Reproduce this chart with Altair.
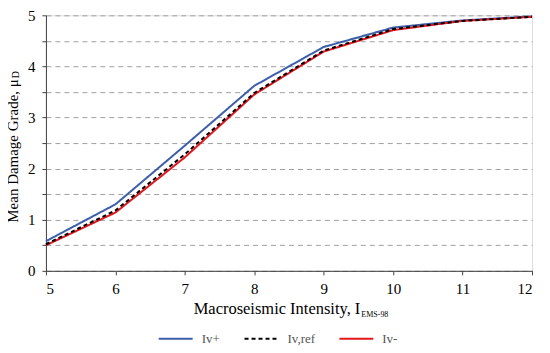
import altair as alt
import pandas as pd

intensity = [5, 6, 7, 8, 9, 10, 11, 12]
iv_plus = [0.58, 1.30, 2.45, 3.62, 4.38, 4.76, 4.90, 4.98]
iv_ref = [0.52, 1.18, 2.28, 3.48, 4.31, 4.73, 4.89, 4.97]
iv_minus = [0.50, 1.14, 2.22, 3.45, 4.29, 4.71, 4.89, 4.97]
series_names = ["Iv+", "Iv,ref", "Iv-"]
series_colors = ["#3d5ea8", "#000000", "#e3161e"]
series_dash = [[1, 0], [4, 3], [1, 0]]

rows = []
for name, vals in zip(series_names, [iv_plus, iv_ref, iv_minus]):
    for x, v in zip(intensity, vals):
        rows.append({"I": x, "mu": v, "series": name})
df = pd.DataFrame(rows)

FONT = "Liberation Serif"

xenc = alt.X("I:Q", scale=alt.Scale(domain=[5, 12], nice=False, zero=False),
             axis=alt.Axis(values=intensity, title=None, grid=False, tickSize=4,
                           labelPadding=7, labelFontSize=15, labelFont=FONT,
                           labelColor="#000", domainColor="#404040", tickColor="#404040"))
yenc = alt.Y("mu:Q", scale=alt.Scale(domain=[0, 5], nice=False),
             axis=alt.Axis(values=[0, 0.5, 1, 1.5, 2, 2.5, 3, 3.5, 4, 4.5, 5], title=None,
                           labelExpr="datum.value % 1 == 0 ? format(datum.value, 'd') : ''",
                           grid=True, gridDash=[5, 4], gridColor="#a0a0a0", gridWidth=1,
                           tickSize=4, labelPadding=7, labelFontSize=15, labelFont=FONT,
                           labelColor="#000", domainColor="#404040", tickColor="#404040"))
color = alt.Color("series:N", scale=alt.Scale(domain=series_names, range=series_colors),
                  legend=alt.Legend(title=None, orient="none", direction="horizontal",
                                    legendX=112, legendY=306, symbolType="stroke",
                                    symbolSize=1156, symbolStrokeWidth=2, padding=0,
                                    labelFont=FONT, labelFontSize=13, labelColor="#555",
                                    columnPadding=20, labelOffset=8))
dash = alt.StrokeDash("series:N", scale=alt.Scale(domain=series_names, range=series_dash),
                      legend=None)

base = alt.Chart(df)
def line(name):
    return base.transform_filter(alt.datum.series == name).mark_line(strokeWidth=2).encode(
        x=xenc, y=yenc, color=color, strokeDash=dash)

lines = [line("Iv+"), line("Iv-"), line("Iv,ref")]

ytitle = alt.Chart(pd.DataFrame({"t": ["Mean Damage Grade, μ"]})).mark_text(
    angle=270, align="right", baseline="middle", font=FONT, fontSize=15, color="#000"
).encode(x=alt.value(-33), y=alt.value(64), text="t:N")
ysub = alt.Chart(pd.DataFrame({"t": ["D"]})).mark_text(
    angle=270, align="left", baseline="middle", font=FONT, fontSize=10, color="#000"
).encode(x=alt.value(-30), y=alt.value(63), text="t:N")

xtitle = alt.Chart(pd.DataFrame({"t": ["Macroseismic Intensity, I"]})).mark_text(
    align="right", baseline="alphabetic", font=FONT, fontSize=16.5, color="#000"
).encode(x=alt.value(315), y=alt.value(299), text="t:N")
xsub = alt.Chart(pd.DataFrame({"t": ["EMS-98"]})).mark_text(
    align="left", baseline="alphabetic", font=FONT, fontSize=8, color="#000"
).encode(x=alt.value(316), y=alt.value(302), text="t:N")

chart = alt.layer(*lines, ytitle, ysub, xtitle, xsub).properties(
    width=487, height=256,
    autosize=alt.AutoSizeParams(type="none"),
    padding={"left": 38, "top": 7, "right": 10, "bottom": 75},
).configure_view(stroke="#404040", strokeWidth=1.2).configure(background="white")

chart.save("out.html", embed_options={"renderer": "svg", "actions": False})
